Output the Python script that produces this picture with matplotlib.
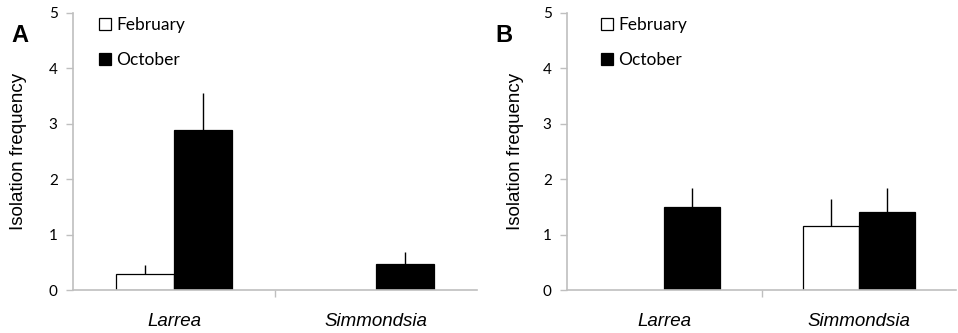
import numpy as np
import matplotlib.pyplot as plt

# data
categories = ['Larrea', 'Simmondsia']
series_names = ['February', 'October']
panel_labels = ['A', 'B']

# panel A
a_feb = [0.29, np.nan]
a_feb_err = [0.17, np.nan]
a_oct = [2.89, 0.47]
a_oct_err = [0.67, 0.21]

# panel B
b_feb = [np.nan, 1.16]
b_feb_err = [np.nan, 0.48]
b_oct = [1.49, 1.40]
b_oct_err = [0.36, 0.45]

panels = [
    (a_feb, a_feb_err, a_oct, a_oct_err),
    (b_feb, b_feb_err, b_oct, b_oct_err),
]

# constants
bar_w = 0.287
axis_grey = '#bfbfbf'
tick_font = 'Lato'
label_font = 'Liberation Sans'

fig = plt.figure(figsize=(9.58, 3.33), dpi=100)
ax_rects = [
    [73 / 958, 0.129, 404 / 958, 0.832],
    [567 / 958, 0.129, 389 / 958, 0.832],
]
letter_x = [11 / 958, 495 / 958]
ylabel_x = [19 / 958, 516 / 958]


def draw_series(ax, vals, errs, offset, face):
    x = np.arange(len(categories)) + 0.5
    keep = [i for i in range(len(vals)) if not np.isnan(vals[i])]
    xs = x[keep] + offset
    hs = [vals[i] for i in keep]
    es = [errs[i] for i in keep]
    bars = ax.bar(xs, hs, width=bar_w, align='edge', color=face,
                  edgecolor='black', linewidth=0.9, zorder=2)
    ax.errorbar(xs + bar_w / 2, hs, yerr=[np.zeros(len(es)), es],
                fmt='none', ecolor='black', elinewidth=1.0, capsize=0, zorder=1)
    return bars


for k, (feb, feb_err, octo, oct_err) in enumerate(panels):
    ax = fig.add_axes(ax_rects[k])
    h1 = draw_series(ax, feb, feb_err, -bar_w, 'white')
    h2 = draw_series(ax, octo, oct_err, 0.0, 'black')

    ax.set_xlim(0, 2)
    ax.set_ylim(0, 5)
    ax.set_yticks(range(6))
    ax.set_xticks([1])
    ax.set_xticklabels([])
    ax.tick_params(axis='y', direction='out', length=5, width=1.0,
                   color=axis_grey, labelsize=11, pad=6)
    ax.tick_params(axis='x', direction='out', length=5, width=1.0,
                   color=axis_grey)
    for lab in ax.get_yticklabels():
        lab.set_fontfamily(tick_font)
    for side in ['top', 'right']:
        ax.spines[side].set_visible(False)
    for side in ['left', 'bottom']:
        ax.spines[side].set_color(axis_grey)
        ax.spines[side].set_linewidth(1.2)

    for i, name in enumerate(categories):
        ax.text(i + 0.5, -0.42, name, ha='center', va='top', style='italic',
                family=label_font, fontsize=13.5, transform=ax.transData,
                clip_on=False)

    fig.text(ylabel_x[k], 0.129 + 0.832 / 2, 'Isolation frequency',
             rotation=90, ha='center', va='center', family=label_font,
             fontsize=13.5)
    fig.text(letter_x[k], 1 - 36 / 333, panel_labels[k], ha='left',
             va='center', family=label_font, fontsize=17, weight='bold')

    ax.legend([h1, h2], series_names, loc='upper left',
              bbox_to_anchor=(0.065 if k == 0 else 0.088, 0.985),
              frameon=False, borderpad=0, borderaxespad=0,
              handlelength=0.7, handleheight=0.7, handletextpad=0.3,
              labelspacing=1.1, prop={'family': tick_font, 'size': 12.5})

fig.savefig('out.png', dpi=100)
